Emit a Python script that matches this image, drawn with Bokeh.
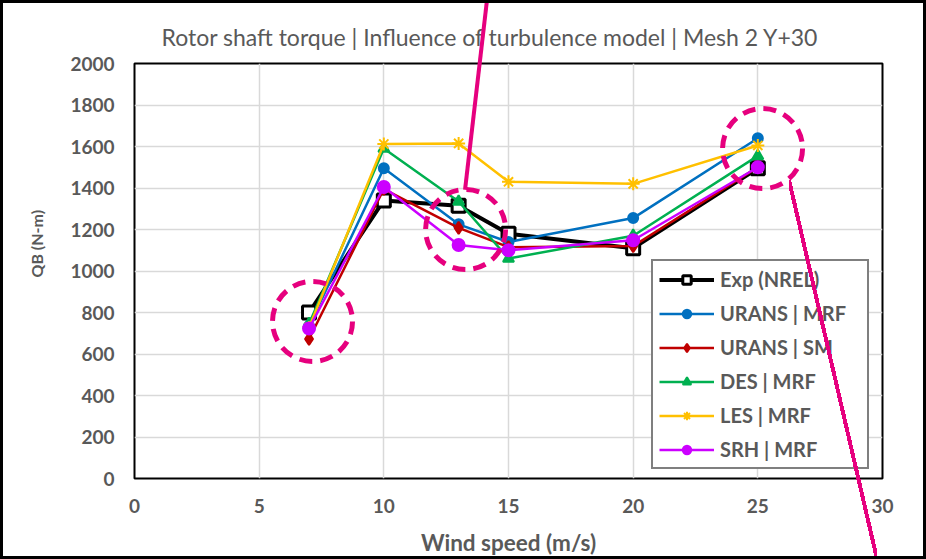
from bokeh.plotting import figure
from bokeh.models import Range1d, FixedTicker, InlineStyleSheet, Title
from bokeh.embed import file_html
from bokeh.resources import INLINE

# Rotor shaft torque (N-m) versus wind speed (m/s)
wind = [7, 10, 13, 15, 20, 25]
exp_nrel = [800, 1340, 1315, 1180, 1110, 1495]
urans_mrf = [735, 1495, 1225, 1140, 1255, 1640]
urans_sm = [672, 1395, 1208, 1115, 1120, 1500]
des_mrf = [745, 1590, 1335, 1060, 1170, 1555]
les_mrf = [728, 1612, 1615, 1430, 1420, 1605]
srh_mrf = [723, 1405, 1125, 1100, 1148, 1500]

x_ticks = [0, 5, 10, 15, 20, 25, 30]
y_ticks = [0, 200, 400, 600, 800, 1000, 1200, 1400, 1600, 1800, 2000]

# highlighted regions (centre wind speed, centre torque)
ring_x = [7.14, 13.28, 25.19]
ring_y = [757, 1200, 1590]

FONT = "Lato"
GREY = "#595959"
PINK = "#E6007E"

p = figure(width=926, height=559, x_range=Range1d(0, 30), y_range=Range1d(0, 2000),
           output_backend="svg", toolbar_location=None,
           min_border_left=134, min_border_right=44, min_border_top=63, min_border_bottom=81,
           background_fill_color="white", border_fill_color="white")

# chart border plus the two pink pointer strokes that run past the plot frame
css = f"""
:host {{
  position: relative;
}}
:host::before {{
  content: "";
  position: fixed;
  left: 485px; top: 0px;
  width: 4px; height: 191px;
  background: {PINK};
  transform-origin: 2px 0px;
  transform: rotate(6.6deg);
  z-index: 5;
  pointer-events: none;
}}
:host::after {{
  content: "";
  position: fixed;
  left: 0px; top: 0px;
  width: 100vw; height: 100vh;
  box-sizing: border-box;
  border: 3px solid black;
  background-image: linear-gradient(to top right,
      transparent calc(50% - 2px), {PINK} calc(50% - 2px),
      {PINK} calc(50% + 2px), transparent calc(50% + 2px));
  background-origin: border-box;
  background-clip: border-box;
  background-position: 789px 180px;
  background-size: 88px 379px;
  background-repeat: no-repeat;
  z-index: 6;
  pointer-events: none;
}}
"""
p.stylesheets = [InlineStyleSheet(css=css)]

p.title.text = "Rotor shaft torque | Influence of turbulence model | Mesh 2 Y+30"
p.title.text_font = FONT
p.title.text_font_size = "23px"
p.title.text_font_style = "normal"
p.title.text_color = GREY
p.title.align = "left"
p.title.offset = 27
p.title.standoff = 26

p.outline_line_color = "black"
p.outline_line_width = 2

for ax in (p.xaxis[0], p.yaxis[0]):
    ax.major_tick_line_color = None
    ax.minor_tick_line_color = None
    ax.major_tick_out = 0
    ax.major_tick_in = 0
    ax.axis_line_color = None
    ax.major_label_text_font = FONT
    ax.major_label_text_font_size = "19px"
    ax.major_label_text_font_style = "bold"
    ax.major_label_text_color = GREY
    ax.major_label_standoff = 20
    ax.axis_label_text_font = FONT
    ax.axis_label_text_font_style = "bold"
    ax.axis_label_text_color = GREY

p.xaxis.ticker = FixedTicker(ticks=x_ticks)
p.yaxis.ticker = FixedTicker(ticks=y_ticks)
p.xaxis.axis_label = "Wind speed (m/s)"
p.xaxis.axis_label_text_font_size = "22.5px"
p.xaxis.axis_label_standoff = 13

# vertical axis title, set a little above the middle of the frame
y_title = Title(text="QB (N-m)", align="left", offset=201, standoff=43,
                text_font=FONT, text_font_size="16px", text_font_style="bold",
                text_color=GREY)
p.add_layout(y_title, "left")

p.xgrid.ticker = FixedTicker(ticks=x_ticks)
p.ygrid.ticker = FixedTicker(ticks=y_ticks)
p.grid.grid_line_color = "#D9D9D9"
p.grid.grid_line_width = 1.5

# experimental reference
p.line(wind, exp_nrel, line_color="black", line_width=4, legend_label="Exp (NREL)")
p.scatter(wind, exp_nrel, marker="square", size=13, fill_color="white",
          line_color="black", line_width=3, legend_label="Exp (NREL)")

series = [
    ("URANS | MRF", urans_mrf, "#0070C0", "circle", 10),
    ("URANS | SM", urans_sm, "#C00000", "diamond", 12),
    ("DES | MRF", des_mrf, "#00B050", "triangle", 11),
    ("LES | MRF", les_mrf, "#FFC000", "asterisk", 13),
    ("SRH | MRF", srh_mrf, "#CC00FF", "circle", 12),
]
for name, vals, color, marker, size in series:
    p.line(wind, vals, line_color=color, line_width=2.5, legend_label=name)
    p.scatter(wind, vals, marker=marker, size=size, fill_color=color,
              line_color=color, line_width=2, legend_label=name)

lg = p.legend[0]
lg.location = (517, 9)
lg.border_line_color = "black"
lg.border_line_width = 2
lg.background_fill_color = "white"
lg.background_fill_alpha = 1
lg.padding = 6
lg.spacing = 10
lg.margin = 0
lg.glyph_width = 55
lg.glyph_height = 21
lg.label_height = 21
lg.label_standoff = 6
lg.label_width = 141
lg.label_text_font = FONT
lg.label_text_font_size = "20px"
lg.label_text_font_style = "bold"
lg.label_text_color = GREY

# dashed rings around the regions of interest
p.scatter(ring_x, ring_y, marker="circle", size=80, fill_color=None,
          line_color=PINK, line_width=5, line_dash="13 8")

open("out.html", "w").write(file_html(p, INLINE))
